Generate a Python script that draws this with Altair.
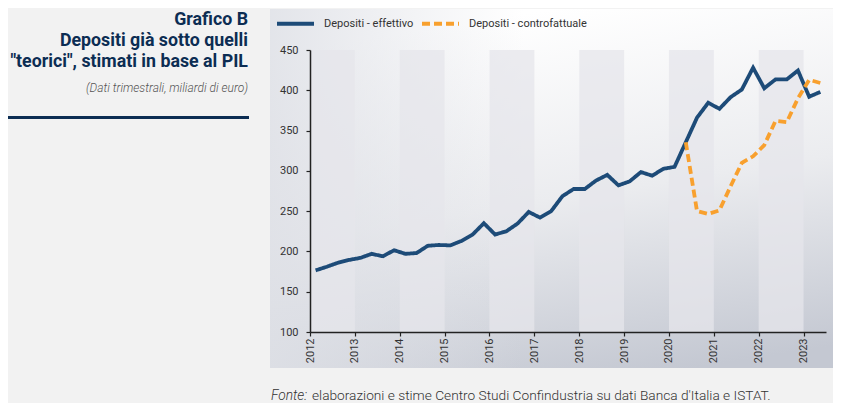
import altair as alt
import pandas as pd

# ---------------- data ----------------
years = list(range(2012, 2024))
quarter_offsets = [0.125, 0.375, 0.625, 0.875]  # quarter mid-points within the year

effettivo = [
    176.5, 181, 186, 189.5,      # 2012
    192, 197, 194, 201.5,        # 2013
    197, 198, 207, 208,          # 2014
    207.5, 213, 221, 235,        # 2015
    221, 225, 234.5, 249,        # 2016
    242, 250, 268.5, 277.5,      # 2017
    277.5, 288, 295, 282,        # 2018
    287, 298.5, 294, 302.5,      # 2019
    305, 335.5, 366, 384.5,      # 2020
    377, 391.5, 401, 428,        # 2021
    402.5, 413.5, 413.5, 424.5,  # 2022
    392, 398,                    # 2023
]
# counterfactual starts in 2020 Q2
controfattuale_start = (2020, 2)
controfattuale = [335.5, 250, 246.5, 251, 281, 310, 318, 332, 362, 360.5, 390, 413, 409]

SERIES = ["Depositi - effettivo", "Depositi - controfattuale"]
COLORS = ["#1d4b78", "#f8a02e"]
DASHES = [[1, 0], [8, 4]]

x_ticks = years
y_ticks = [100, 150, 200, 250, 300, 350, 400, 450]
band_starts = [2012, 2014, 2016, 2018, 2020, 2022]

title_lines = ["Grafico B", "Depositi già sotto quelli", "\"teorici\", stimati in base al PIL"]
subtitle = "(Dati trimestrali, miliardi di euro)"
fonte_label = "Fonte:"
fonte_text = "elaborazioni e stime Centro Studi Confindustria su dati Banca d'Italia e ISTAT."

# ---------------- tables ----------------
periods = [(y, q) for y in years for q in range(1, 5)]
rows = []
for (y, q), v in zip(periods, effettivo):
    rows.append({"series": SERIES[0], "t": y + quarter_offsets[q - 1], "value": v})
start_idx = periods.index(controfattuale_start)
for (y, q), v in zip(periods[start_idx:], controfattuale):
    rows.append({"series": SERIES[1], "t": y + quarter_offsets[q - 1], "value": v})
df = pd.DataFrame(rows)

bands = pd.DataFrame({"t": band_starts, "t_end": [b + 1 for b in band_starts]})
one = pd.DataFrame({"k": [0]})

W, H = 516, 282
FONT = "Roboto"
NAVY = "#0c2d53"

x_scale = alt.Scale(domain=[2012, 2023.5], nice=False, zero=False)
y_scale = alt.Scale(domain=[100, 450], nice=False, zero=False)

x_axis = alt.Axis(values=x_ticks, format="d", labelAngle=270, title=None, grid=False,
                  tickSize=4, labelPadding=2, labelFont=FONT, labelFontSize=11,
                  labelColor="#333333", domainColor="#222222", tickColor="#222222",
                  domainWidth=1.5, tickWidth=1.2, labelOverlap=False, labelFlush=False, zindex=1)
y_axis = alt.Axis(values=y_ticks, title=None, grid=False, tickSize=4, labelPadding=8,
                  labelFont=FONT, labelFontSize=11, labelColor="#333333",
                  domainColor="#222222", tickColor="#222222", domainWidth=1.5, tickWidth=1.2,
                  labelOverlap=False, labelFlush=False, zindex=1)

# ---------------- layers ----------------
grad_main = alt.LinearGradient(
    gradient="linear", x1=0.5, y1=0, x2=0.75, y2=1,
    stops=[alt.GradientStop(offset=0, color="#ffffff"),
           alt.GradientStop(offset=0.5, color="#ebecef"),
           alt.GradientStop(offset=1, color="#c4c8d2")])
grad_left = alt.LinearGradient(
    gradient="linear", x1=0, y1=0, x2=0.45, y2=0,
    stops=[alt.GradientStop(offset=0, color="rgba(222,224,230,0.85)"),
           alt.GradientStop(offset=1, color="rgba(222,224,230,0)")])

panel = alt.Chart(one).mark_rect(fill=grad_main).encode(
    x=alt.value(-40), x2=alt.value(524), y=alt.value(-41), y2=alt.value(318))
panel2 = alt.Chart(one).mark_rect(fill=grad_left).encode(
    x=alt.value(-40), x2=alt.value(524), y=alt.value(-41), y2=alt.value(318))

band_layer = alt.Chart(bands).mark_rect(color="#e5e6eb", opacity=0.75).encode(
    x=alt.X("t:Q", scale=x_scale, axis=x_axis),
    x2="t_end:Q",
    y=alt.value(0), y2=alt.value(H))

legend = alt.Legend(title=None, orient="none", legendX=-35, legendY=-47,
                    direction="horizontal", symbolType="stroke", symbolSize=1369,
                    symbolStrokeWidth=4, labelFont=FONT, labelFontSize=11,
                    labelColor="#333333", labelOffset=8, columnPadding=0, padding=0)

lines = alt.Chart(df).mark_line(strokeWidth=3.8).encode(
    x=alt.X("t:Q", scale=x_scale, axis=x_axis),
    y=alt.Y("value:Q", scale=y_scale, axis=y_axis),
    color=alt.Color("series:N", scale=alt.Scale(domain=SERIES, range=COLORS), legend=legend),
    strokeDash=alt.StrokeDash("series:N", scale=alt.Scale(domain=SERIES, range=DASHES), legend=legend),
    order=alt.Order("t:Q"),
)

title_ys = [-25, -3.8, 17.4]
titles = [
    alt.Chart(one).mark_text(text=txt, align="right", baseline="alphabetic", font=FONT,
                             fontSize=17.8, fontWeight="bold", color=NAVY).encode(
        x=alt.value(-62), y=alt.value(ty))
    for txt, ty in zip(title_lines, title_ys)
]
sub = alt.Chart(one).mark_text(text=subtitle, align="right", baseline="alphabetic", font=FONT,
                               fontSize=12, fontStyle="italic", fontWeight=300, color="#555555").encode(
    x=alt.value(-62), y=alt.value(42))
underline = alt.Chart(one).mark_rule(color=NAVY, strokeWidth=3).encode(
    x=alt.value(-302), x2=alt.value(-61), y=alt.value(67.5))
fonte1 = alt.Chart(one).mark_text(text=fonte_label, align="left", baseline="alphabetic", font=FONT,
                                  fontSize=13.7, fontStyle="italic", fontWeight=300, color="#333333").encode(
    x=alt.value(-39), y=alt.value(350))
fonte2 = alt.Chart(one).mark_text(text=fonte_text, align="left", baseline="alphabetic", font=FONT,
                                  fontSize=13.7, fontWeight=300, color="#333333").encode(
    x=alt.value(2), y=alt.value(350))

chart = alt.layer(panel, panel2, band_layer, lines, *titles, sub, underline, fonte1, fonte2).properties(
    width=W, height=H,
    autosize=alt.AutoSizeParams(type="none"),
    padding={"left": 302, "top": 42, "right": 7, "bottom": 71},
).configure(background="#f2f2f2").configure_view(stroke=None)

chart.save("out.html", embed_options={"renderer": "svg", "actions": False})
